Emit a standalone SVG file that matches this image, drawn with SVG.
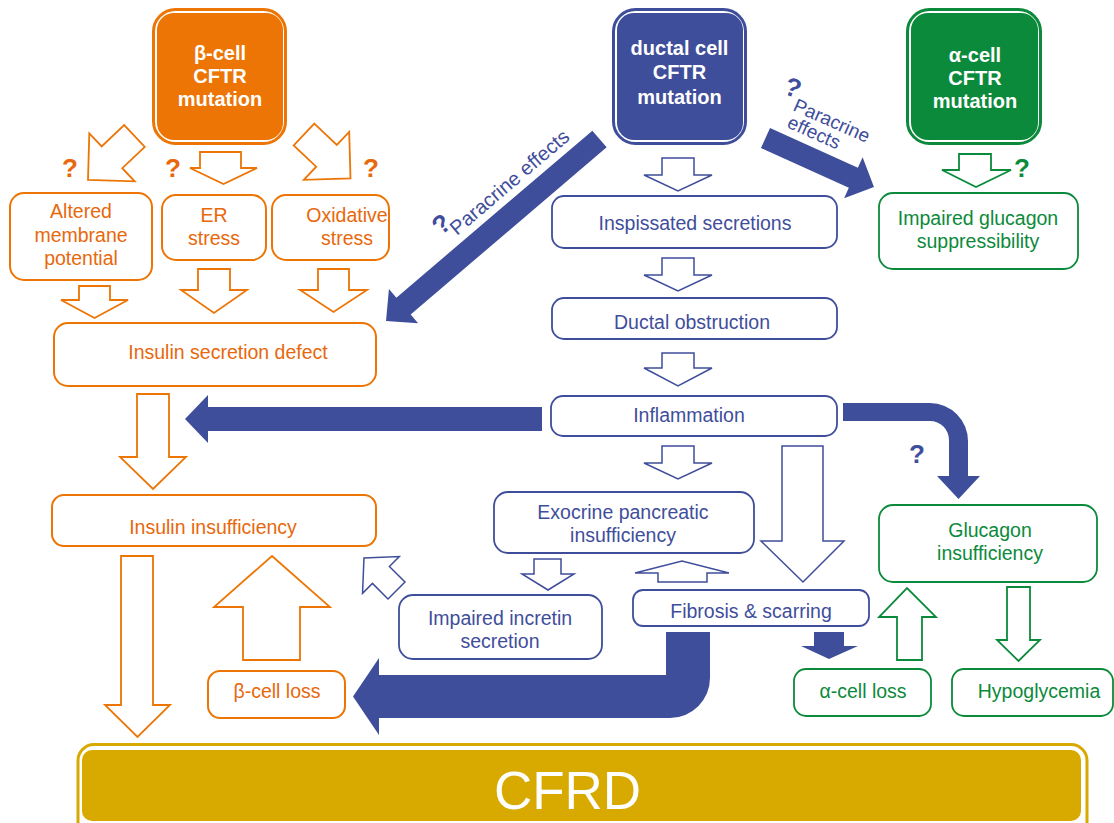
<svg xmlns="http://www.w3.org/2000/svg" width="1114" height="823" viewBox="0 0 1114 823">
<style>
text{font-family:"Liberation Sans",Arial,sans-serif;}
.t{font-size:19.5px;text-anchor:middle}
.to{fill:#E8680C}
.tb{fill:#3F4E9B}
.tg{fill:#0C8A3B}
.hd{font-size:20px;font-weight:bold;fill:#fff;text-anchor:middle}
.bo{fill:#fff;stroke:#EC7505;stroke-width:2}
.bb{fill:#fff;stroke:#3F4E9B;stroke-width:1.8}
.bg{fill:#fff;stroke:#0C8A3B;stroke-width:1.8}
.ao{fill:#fff;stroke:#EC7505;stroke-width:1.8}
.ab{fill:#fff;stroke:#3F4E9B;stroke-width:1.5}
.ag{fill:#fff;stroke:#0C8A3B;stroke-width:1.8}
.fb{fill:#3F4E9B}
.q{font-size:26px;font-weight:bold;text-anchor:middle}
</style>
<rect width="1114" height="823" fill="#fff"/>

<g id="connectors">
  <!-- orange -->
  <polygon class="ao" transform="translate(134.5,136) rotate(136.6)" points="0,-15 31,-15 31,-33 64,0 31,33 31,15 0,15"/>
  <polygon class="ao" transform="translate(304,134.5) rotate(43.4)" points="0,-15 31,-15 31,-33 64,0 31,33 31,15 0,15"/>
  <polygon class="ao" points="200,152 241,152 241,168 257,168 223.5,184 190,168 200,168"/>
  <polygon class="ao" points="79,286 110,286 110,300 128,300 94.5,318 61,300 79,300"/>
  <polygon class="ao" points="198,269 230,269 230,290 247,290 214,313 181,290 198,290"/>
  <polygon class="ao" points="318,269 349,269 349,290 367,290 333.5,312 300,290 318,290"/>
  <polygon class="ao" points="137,394 169,394 169,457 186,457 153,489 120,457 137,457"/>
  <polygon class="ao" points="121,556 153,556 153,705 170,705 137.5,737 105,705 121,705"/>
  <polygon class="ao" points="243,660 300,660 300,607 330,607 272,556 214,607 243,607"/>
  <!-- blue outline -->
  <polygon class="ab" points="662,158 694,158 694,175 712,175 678,191 644,175 662,175"/>
  <polygon class="ab" points="662,258 694,258 694,275 712,275 678,291 644,275 662,275"/>
  <polygon class="ab" points="662,353 694,353 694,368 712,368 678,386 644,368 662,368"/>
  <polygon class="ab" points="662,446 694,446 694,463 712,463 678,479 644,463 662,463"/>
  <polygon class="ab" points="782,446 823,446 823,541 844,541 803,582 761,541 782,541"/>
  <polygon class="ab" points="534,559 561,559 561,574 574,574 548,590 522,574 534,574"/>
  <polygon class="ab" points="658,582 658,573 635,573 682,561 729,573 707,573 707,582"/>
  <polygon class="ab" transform="translate(396.5,590.5) rotate(225)" points="0,-12 22,-12 22,-26 46,0 22,26 22,12 0,12"/>
  <!-- green outline -->
  <polygon class="ag" points="959,154 991,154 991,170 1011,170 976,187 942,170 959,170"/>
  <polygon class="ag" points="897,660 922,660 922,617 936,617 907,588 879,617 897,617"/>
  <polygon class="ag" points="1007,587 1030,587 1030,640 1040,640 1018.5,661 997,640 1007,640"/>
  <!-- blue filled -->
  <polygon class="fb" transform="translate(599.5,139) rotate(139.56)" points="0,-11 257.5,-11 257.5,-22.5 280.5,0 257.5,22.5 257.5,11 0,11"/>
  <polygon class="fb" transform="translate(765.5,138) rotate(24.3)" points="0,-11 96.4,-11 96.4,-22.5 119,0 96.4,22.5 96.4,11 0,11"/>
  <polygon class="fb" points="542,407 208,407 208,395 185,419 208,443 208,431 542,431"/>
  <path class="fb" d="M666,632 H710 V678 A40,40 0 0 1 670,718 H379 V735 L353,696.5 L379,658 V675 H666 Z"/>
  <path class="fb" d="M843,403 H930 A38,38 0 0 1 968,441 V476 H980 L958.5,499 L937,476 H949 V440 A19,19 0 0 0 930,421 H843 Z"/>
  <polygon class="fb" points="814,632 844,632 844,646 858,646 829,659 801,646 814,646"/>
  <!-- labels -->
  <text class="q to" x="70" y="177">?</text>
  <text class="q to" x="173" y="177">?</text>
  <text class="q to" x="371" y="177">?</text>
  <text class="q tg" x="1022" y="177">?</text>
  <text class="q tb" x="917" y="463">?</text>
  <text class="q tb" transform="translate(447,231) rotate(-40)">?</text>
  <text class="tb" font-size="20" transform="translate(457,236) rotate(-40.5)">Paracrine effects</text>
  <text class="q tb" transform="translate(790,96) rotate(20)">?</text>
  <text class="tb" font-size="19" transform="translate(792,110) rotate(24)">Paracrine</text>
  <text class="tb" font-size="19" transform="translate(786,127) rotate(24)">effects</text>
</g>

<g id="beta-cell-mutation">
  <rect x="153.5" y="9.5" width="132" height="134" rx="22" fill="#fff" stroke="#EC7505" stroke-width="3"/>
  <rect x="157" y="13" width="126" height="127" rx="17" fill="#EC7505"/>
  <text class="hd" x="220" y="60">β-cell</text>
  <text class="hd" x="220" y="83">CFTR</text>
  <text class="hd" x="220" y="106">mutation</text>
</g>
<g id="ductal-cell-mutation">
  <rect x="613.5" y="9.5" width="132" height="134" rx="22" fill="#fff" stroke="#3F4E9B" stroke-width="3"/>
  <rect x="617" y="13" width="126" height="127" rx="17" fill="#3F4E9B"/>
  <text class="hd" x="679.5" y="55">ductal cell</text>
  <text class="hd" x="679.5" y="79">CFTR</text>
  <text class="hd" x="679.5" y="104">mutation</text>
</g>
<g id="alpha-cell-mutation">
  <rect x="907.5" y="9.5" width="133" height="134" rx="22" fill="#fff" stroke="#0C8A3B" stroke-width="3"/>
  <rect x="911" y="13" width="127" height="127" rx="17" fill="#0C8A3B"/>
  <text class="hd" x="975" y="62">α-cell</text>
  <text class="hd" x="975" y="85">CFTR</text>
  <text class="hd" x="975" y="108">mutation</text>
</g>

<g id="altered-membrane-potential">
  <rect class="bo" x="10" y="193" width="142" height="87" rx="14"/>
  <text class="t to" x="81" y="218">Altered</text>
  <text class="t to" x="81" y="242">membrane</text>
  <text class="t to" x="81" y="265">potential</text>
</g>
<g id="er-stress">
  <rect class="bo" x="162" y="195" width="104" height="65" rx="14"/>
  <text class="t to" x="214" y="222">ER</text>
  <text class="t to" x="214" y="245">stress</text>
</g>
<g id="oxidative-stress">
  <rect class="bo" x="272" y="195" width="117" height="65" rx="14"/>
  <text class="t to" x="347" y="222">Oxidative</text>
  <text class="t to" x="347" y="245">stress</text>
</g>
<g id="insulin-secretion-defect">
  <rect class="bo" x="54" y="323" width="322" height="63" rx="14"/>
  <text class="t to" x="228" y="359">Insulin secretion defect</text>
</g>
<g id="insulin-insufficiency">
  <rect class="bo" x="52" y="495" width="324" height="51" rx="12"/>
  <text class="t to" x="213" y="534">Insulin insufficiency</text>
</g>
<g id="beta-cell-loss">
  <rect class="bo" x="208" y="671" width="137" height="47" rx="12"/>
  <text class="t to" x="277" y="698">β-cell loss</text>
</g>

<g id="inspissated-secretions">
  <rect class="bb" x="552" y="196" width="285" height="52" rx="12"/>
  <text class="t tb" x="695" y="230">Inspissated secretions</text>
</g>
<g id="ductal-obstruction">
  <rect class="bb" x="552" y="298" width="285" height="41" rx="12"/>
  <text class="t tb" x="692" y="329">Ductal obstruction</text>
</g>
<g id="inflammation">
  <rect class="bb" x="551" y="396" width="286" height="40" rx="12"/>
  <text class="t tb" x="689" y="422">Inflammation</text>
</g>
<g id="exocrine-pancreatic-insufficiency">
  <rect class="bb" x="494" y="492" width="260" height="61" rx="14"/>
  <text class="t tb" x="623" y="519">Exocrine pancreatic</text>
  <text class="t tb" x="623" y="542">insufficiency</text>
</g>
<g id="impaired-incretin-secretion">
  <rect class="bb" x="399" y="595" width="203" height="64" rx="14"/>
  <text class="t tb" x="500" y="625">Impaired incretin</text>
  <text class="t tb" x="500" y="648">secretion</text>
</g>
<g id="fibrosis-scarring">
  <rect class="bb" x="633" y="590" width="236" height="36" rx="10"/>
  <text class="t tb" x="751" y="618">Fibrosis &amp; scarring</text>
</g>

<g id="impaired-glucagon-suppressibility">
  <rect class="bg" x="879" y="193" width="199" height="76" rx="14"/>
  <text class="t tg" x="978" y="225">Impaired glucagon</text>
  <text class="t tg" x="978" y="248">suppressibility</text>
</g>
<g id="glucagon-insufficiency">
  <rect class="bg" x="879" y="505" width="218" height="77" rx="14"/>
  <text class="t tg" x="990" y="537">Glucagon</text>
  <text class="t tg" x="990" y="560">insufficiency</text>
</g>
<g id="alpha-cell-loss">
  <rect class="bg" x="794" y="669" width="137" height="47" rx="12"/>
  <text class="t tg" x="863" y="698">α-cell loss</text>
</g>
<g id="hypoglycemia">
  <rect class="bg" x="952" y="669" width="161" height="47" rx="12"/>
  <text class="t tg" x="1039" y="698">Hypoglycemia</text>
</g>

<g id="cfrd">
  <rect x="78" y="744.5" width="1009" height="95" rx="16" fill="#fff" stroke="#D8AA00" stroke-width="3"/>
  <rect x="82" y="750" width="999" height="71" rx="10" fill="#D8AA00"/>
  <text x="567.5" y="809" font-size="53" fill="#fff" text-anchor="middle">CFRD</text>
</g>
</svg>
